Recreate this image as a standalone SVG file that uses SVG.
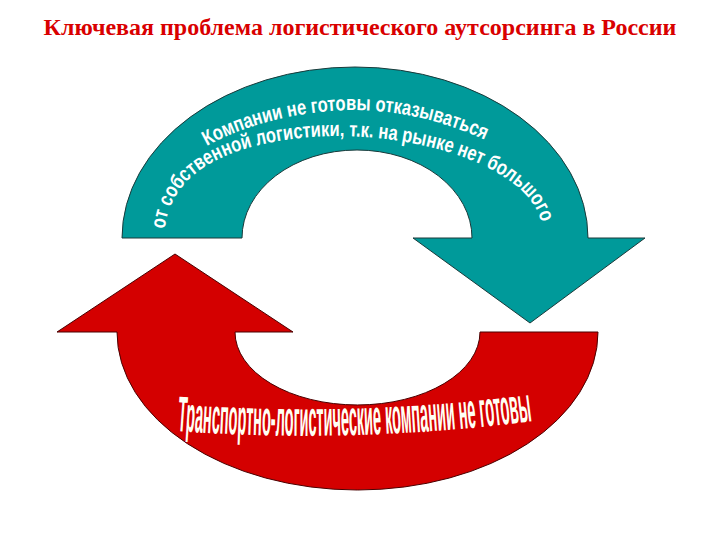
<svg xmlns="http://www.w3.org/2000/svg" width="720" height="540" viewBox="0 0 720 540">
<style>
.title{font-family:"Liberation Serif","Times New Roman",serif;font-weight:bold;font-size:24px;fill:#D90000}
.tl{font-family:"Liberation Sans",Arial,sans-serif;font-weight:bold;font-size:21px;fill:#FFFFFF}
.rl{font-family:"Liberation Sans",Arial,sans-serif;font-weight:bold;font-size:50px;fill:#FFFFF4}
.teal{fill:#009A9A;stroke:#1A3A3A;stroke-width:1}
.red{fill:#D40000;stroke:#4A0000;stroke-width:1}
</style>
<defs>
<path id="p1" d="M 207,146 C 235,130 285,112 350,110 C 410,110 455,126 492,143 L 510,153"/>
<path id="p2" d="M 165,229 C 170,170 235,139 332,136 C 432,135 535,172 542,227 L 545,242"/>
<path id="p3" d="M 177,431 Q 355,444 533,421 L 560,416"/>
</defs>
<g id="title">
<text class="title" x="360" y="35" text-anchor="middle">Ключевая проблема логистического аутсорсинга в России</text>
</g>
<g id="teal-arrow">
<path class="teal" d="M 122,238 A 233 171 0 0 1 588,238 L 645,238 L 530,323 L 413,238 L 472,238 A 115 88 0 0 0 242,238 Z"/>
<text class="tl"><textPath href="#p1" textLength="288" lengthAdjust="spacingAndGlyphs">Компании не готовы отказываться</textPath></text>
<text class="tl"><textPath href="#p2" textLength="448" lengthAdjust="spacingAndGlyphs">от собственной логистики, т.к. на рынке нет большого</textPath></text>
</g>
<g id="red-arrow">
<path class="red" d="M 598,332 A 240.5 158 0 0 1 117,332 L 57,332 L 175,254 L 293,332 L 235,332 A 122.5 73 0 0 0 480,332 Z"/>
<text class="rl"><textPath href="#p3" textLength="356" lengthAdjust="spacingAndGlyphs">Транспортно-логистические компании не готовы</textPath></text>
</g>
<g id="connectors"></g>
</svg>
